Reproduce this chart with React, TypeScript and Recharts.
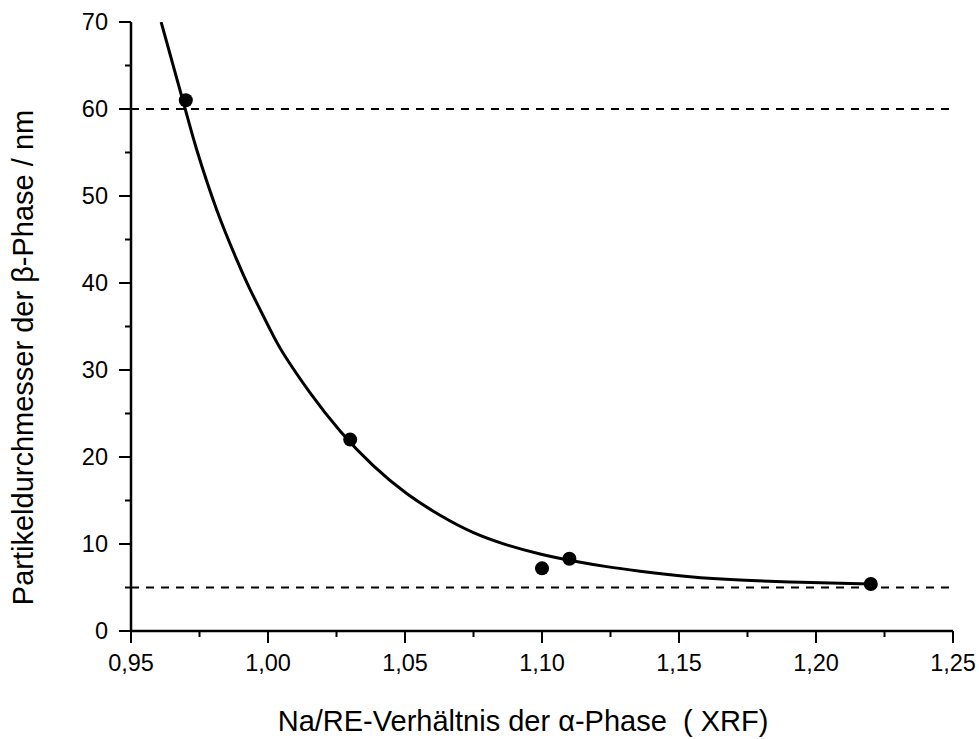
import React from 'react';
import { ComposedChart, Line, Scatter, XAxis, YAxis, ReferenceLine } from 'recharts';

// Axis ticks
const xMajorTicks = [0.95, 1.0, 1.05, 1.1, 1.15, 1.2, 1.25];
const xMinorTicks = [0.975, 1.025, 1.075, 1.125, 1.175, 1.225];
const xTickLabels = ['0,95', '1,00', '1,05', '1,10', '1,15', '1,20', '1,25'];
const yMajorTicks = [0, 10, 20, 30, 40, 50, 60, 70];
const yMinorTicks = [5, 15, 25, 35, 45, 55, 65];
const yTickLabels = ['0', '10', '20', '30', '40', '50', '60', '70'];

// Measured points
const measuredX = [0.97, 1.03, 1.1, 1.11, 1.22];
const measuredY = [61.0, 22.0, 7.2, 8.3, 5.4];

// Fit curve
const fitX = [0.961, 0.9697, 0.9741, 0.9813, 0.9887, 0.9934, 1.0007, 1.0056, 1.0153, 1.0263, 1.0384, 1.0506, 1.0628, 1.075, 1.0871, 1.0993, 1.1115, 1.1236, 1.1358, 1.154, 1.1723, 1.1905, 1.2088, 1.22];
const fitY = [70.0, 60.1, 55.2, 48.4, 42.6, 39.3, 34.7, 31.9, 27.4, 23.0, 19.0, 15.8, 13.3, 11.3, 9.9, 8.85, 8.05, 7.4, 6.88, 6.24, 5.86, 5.63, 5.48, 5.4];

// Dashed limit lines
const limitLines = [60, 5];

const FONT = '"Liberation Sans", Arial, Helvetica, sans-serif';

const fitData = fitX.map((x, i) => ({ x, y: fitY[i] }));
const pointData = measuredX.map((x, i) => ({ x, y: measuredY[i] }));
const xTicks = [...xMajorTicks, ...xMinorTicks].sort((a, b) => a - b);
const yTicks = [...yMajorTicks, ...yMinorTicks].sort((a, b) => a - b);

const XTick = (props: any) => {
  const { x, y, payload } = props;
  const idx = xMajorTicks.findIndex((v) => Math.abs(v - payload.value) < 1e-6);
  const major = idx >= 0;
  return (
    <g>
      <line x1={x} x2={x} y1={y} y2={y + (major ? 12 : 6)} stroke="#000" strokeWidth={2} />
      {major && (
        <text x={x} y={y + 40} textAnchor="middle" fontSize={23.5} fill="#000" fontFamily={FONT}>
          {xTickLabels[idx]}
        </text>
      )}
    </g>
  );
};

const YTick = (props: any) => {
  const { x, y, payload } = props;
  const idx = yMajorTicks.findIndex((v) => Math.abs(v - payload.value) < 1e-6);
  const major = idx >= 0;
  return (
    <g>
      <line x1={x - (major ? 12 : 6)} x2={x} y1={y} y2={y} stroke="#000" strokeWidth={2} />
      {major && (
        <text x={x - 23} y={y + 8} textAnchor="end" fontSize={23.5} fill="#000" fontFamily={FONT}>
          {yTickLabels[idx]}
        </text>
      )}
    </g>
  );
};

const XLabel = (props: any) => {
  const vb = props.viewBox || { x: 131, y: 631, width: 822, height: 108 };
  return (
    <text x={vb.x + vb.width / 2 - 19} y={vb.y + 100} textAnchor="middle" fontSize={29} fill="#000" fontFamily={FONT}>
      {'Na/RE-Verhältnis der α-Phase\u00a0\u00a0( XRF)'}
    </text>
  );
};

const YLabel = (props: any) => {
  const vb = props.viewBox || { x: 0, y: 22, width: 131, height: 609 };
  const cx = vb.x + 33;
  const cy = vb.y + vb.height / 2 + 31;
  return (
    <text x={cx} y={cy} transform={`rotate(-90, ${cx}, ${cy})`} textAnchor="middle" fontSize={29} fill="#000" fontFamily={FONT}>
      Partikeldurchmesser der β-Phase / nm
    </text>
  );
};

const Dot = (props: any) => {
  const { cx, cy } = props;
  if (cx == null || cy == null) return null;
  return <circle cx={cx} cy={cy} r={7} fill="#000" />;
};

export default function App() {
  return (
    <div style={{ position: 'absolute', left: 0, top: 0, width: 979, height: 739, background: '#fff' }}>
      <ComposedChart width={979} height={739} margin={{ top: 22, right: 26, bottom: 0, left: 0 }}>
        <XAxis
          type="number"
          dataKey="x"
          domain={[0.95, 1.25]}
          allowDataOverflow
          ticks={xTicks}
          interval={0}
          height={108}
          tickSize={0}
          tickMargin={0}
          tickLine={false}
          tick={<XTick />}
          axisLine={{ stroke: '#000', strokeWidth: 2.5 }}
          label={<XLabel />}
        />
        <YAxis
          type="number"
          dataKey="y"
          domain={[0, 70]}
          allowDataOverflow
          ticks={yTicks}
          interval={0}
          width={131}
          tickSize={0}
          tickMargin={0}
          tickLine={false}
          tick={<YTick />}
          axisLine={{ stroke: '#000', strokeWidth: 2.5 }}
          label={<YLabel />}
        />
        {limitLines.map((v) => (
          <ReferenceLine key={v} y={v} stroke="#000" strokeWidth={1.8} strokeDasharray="8 7" />
        ))}
        <Line
          data={fitData}
          dataKey="y"
          type="natural"
          stroke="#000"
          strokeWidth={3}
          dot={false}
          activeDot={false}
          isAnimationActive={false}
        />
        <Scatter data={pointData} dataKey="y" fill="#000" shape={<Dot />} isAnimationActive={false} />
      </ComposedChart>
    </div>
  );
}
